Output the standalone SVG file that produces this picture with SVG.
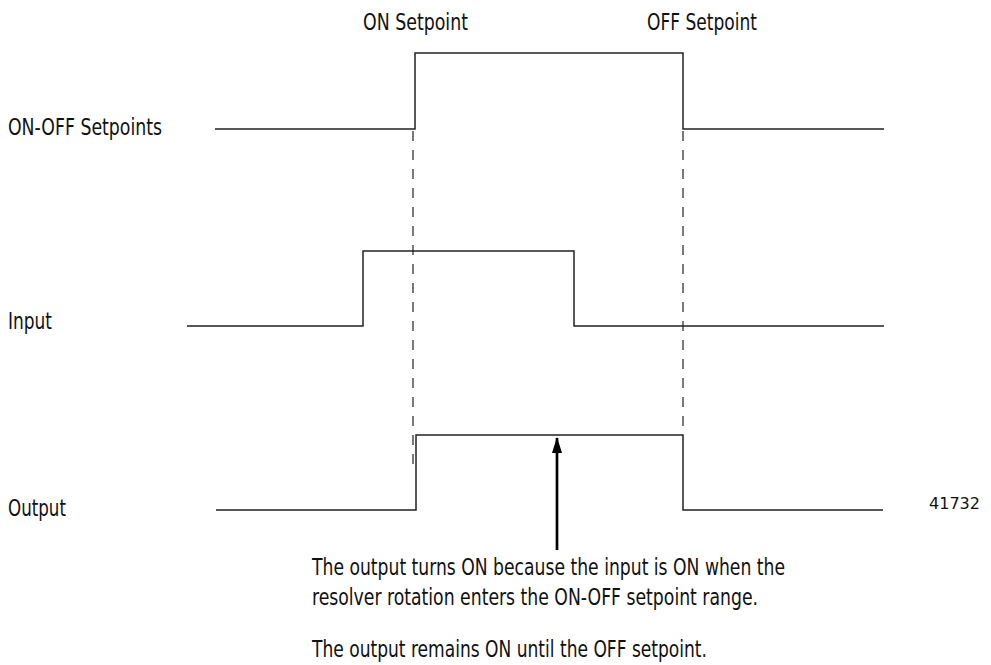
<svg xmlns="http://www.w3.org/2000/svg" width="991" height="665" viewBox="0 0 991 665">
<defs>
<style>
text{font-family:"Liberation Sans Narrow","DejaVu Sans Condensed","Liberation Sans",sans-serif;font-size:23px;fill:#111}
.w{fill:none;stroke:#222;stroke-width:1.5}
.d{fill:none;stroke:#222;stroke-width:1.2;stroke-dasharray:10 9}
.s{font-size:15px}
</style>
<marker id="ah" markerWidth="16" markerHeight="10" refX="15" refY="5" orient="auto" markerUnits="userSpaceOnUse" viewBox="0 0 16 10">
<path d="M16,5 L0,0 L0,10 Z" fill="#000"/>
</marker>
</defs>
<rect width="991" height="665" fill="#fff"/>
<g id="labels">
<text x="363" y="30" textLength="105" lengthAdjust="spacingAndGlyphs">ON Setpoint</text>
<text x="647" y="30" textLength="110" lengthAdjust="spacingAndGlyphs">OFF Setpoint</text>
<text x="8" y="135" textLength="154" lengthAdjust="spacingAndGlyphs">ON-OFF Setpoints</text>
<text x="8" y="329" textLength="44" lengthAdjust="spacingAndGlyphs">Input</text>
<text x="8" y="516" textLength="58" lengthAdjust="spacingAndGlyphs">Output</text>
<text class="s" x="929" y="509" textLength="51" lengthAdjust="spacingAndGlyphs">41732</text>
</g>
<g id="waveform-setpoints">
<path class="w" d="M215,129 H415 V53 H683 V129 H884"/>
</g>
<g id="waveform-input">
<path class="w" d="M187,326 H363 V251 H574 V326 H884"/>
</g>
<g id="waveform-output">
<path class="w" d="M216,510 H416 V435 H683 V510 H883"/>
</g>
<g id="connectors">
<line class="d" x1="413" y1="131" x2="413" y2="465"/>
<line class="d" x1="683" y1="131" x2="683" y2="435"/>
<line x1="557" y1="550" x2="557" y2="438" stroke="#000" stroke-width="2.7" marker-end="url(#ah)"/>
</g>
<g id="note">
<text x="312" y="575" textLength="473" lengthAdjust="spacingAndGlyphs">The output turns ON because the input is ON when the</text>
<text x="312" y="605" textLength="446" lengthAdjust="spacingAndGlyphs">resolver rotation enters the ON-OFF setpoint range.</text>
<text x="312" y="657" textLength="395" lengthAdjust="spacingAndGlyphs">The output remains ON until the OFF setpoint.</text>
</g>
</svg>
